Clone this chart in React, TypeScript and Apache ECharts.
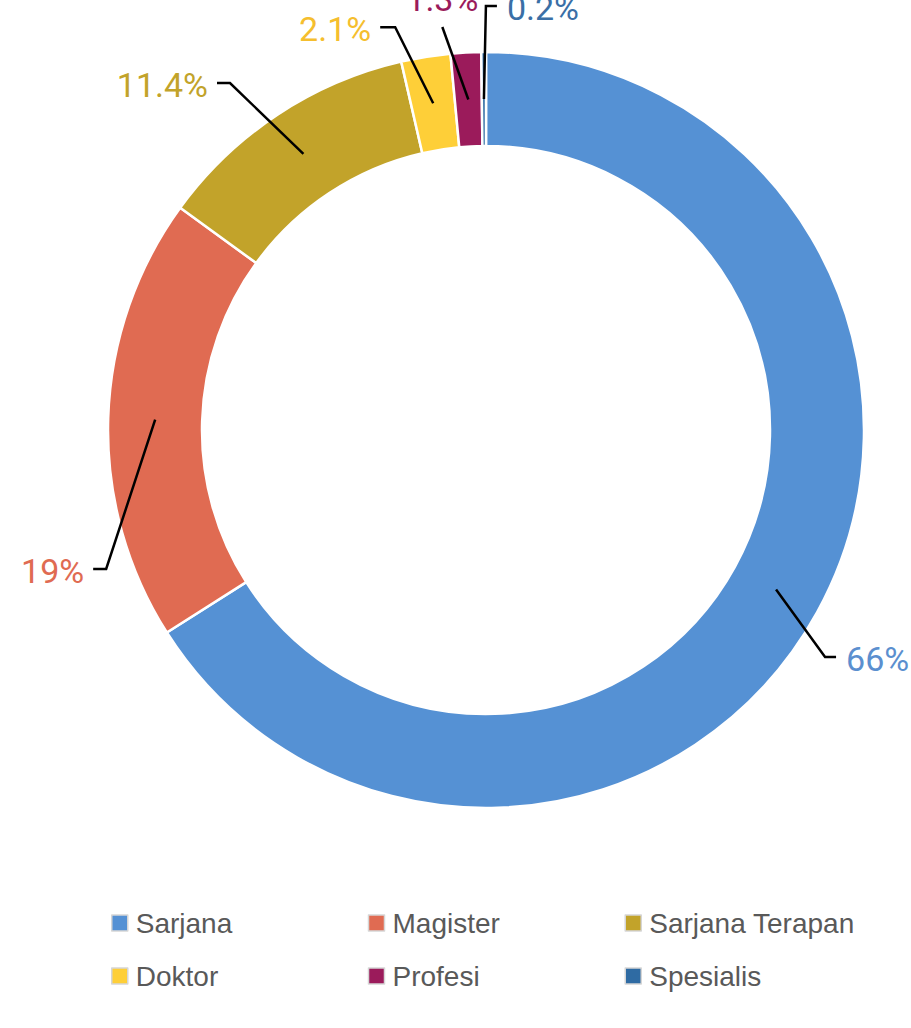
import React, { useEffect, useRef } from "react";
import * as echarts from "echarts";

// ---- data ----
const categories = ["Sarjana", "Magister", "Sarjana Terapan", "Doktor", "Profesi", "Spesialis"];
const percentages = [66, 19, 11.4, 2.1, 1.3, 0.2];
const sliceColors = ["#5591d4", "#e06b52", "#c2a32a", "#fecf38", "#9b1b5b", "#2f6ba3"];
const labelColors = ["#5b8fcf", "#e06b52", "#c2a32a", "#f5be2e", "#9b1b5b", "#3a6fa6"];

// ---- layout (leader lines, relative to each slice's mid-ring anchor) ----
const CX = 486;
const CY = 430;
const R_IN = 284;
const R_OUT = 378;
const leaderElbow = [
  [49, 67.5],
  [-49, 149.4],
  [-73.4, -70.9],
  [-38, -76],
  [-26, -72.5],
  [2, -93],
];
const leaderTail = [11, -13, -13, -15, 0, 11];

export default function App() {
  const ref = useRef<HTMLDivElement>(null);

  useEffect(() => {
    if (!ref.current) return;
    const chart = echarts.init(ref.current, undefined, { renderer: "svg" });
    const total = percentages.reduce((a, b) => a + b, 0);
    const rMid = (R_IN + R_OUT) / 2;
    const cum: number[] = [];
    let acc = 0;
    percentages.forEach((v) => {
      cum.push(acc + v / 2);
      acc += v;
    });

    const labelLayout = (params: any) => {
      const i = params.dataIndex;
      const theta = (cum[i] / total) * Math.PI * 2;
      const ax = CX + rMid * Math.sin(theta);
      const ay = CY - rMid * Math.cos(theta);
      const ex = ax + leaderElbow[i][0];
      const ey = ay + leaderElbow[i][1];
      const tail = leaderTail[i];
      const tx = ex + tail;
      if (tail === 0) {
        return {
          x: ex,
          y: ey - 28,
          align: "center",
          verticalAlign: "middle",
          labelLinePoints: [
            [ax, ay],
            [ex, ey],
            [ex, ey],
          ],
        };
      }
      return {
        x: tail > 0 ? tx + 10 : tx - 9,
        y: ey + 2,
        align: tail > 0 ? "left" : "right",
        verticalAlign: "middle",
        labelLinePoints: [
          [ax, ay],
          [ex, ey],
          [tx, ey],
        ],
      };
    };

    const base = {
      type: "pie",
      center: [CX, CY],
      radius: [R_IN, R_OUT],
      startAngle: 90,
      clockwise: true,
      avoidLabelOverlap: false,
      emphasis: { disabled: true },
    };

    chart.setOption({
      animation: false,
      backgroundColor: "#ffffff",
      legend: {
        orient: "horizontal",
        left: 111,
        top: 903,
        width: 800,
        padding: 0,
        itemGap: 13,
        itemWidth: 16,
        itemHeight: 16,
        icon: "rect",
        itemStyle: { borderColor: "#d6d6d6", borderWidth: 1.5 },
        textStyle: {
          fontFamily: "'Liberation Sans', Arial, sans-serif",
          fontSize: 28,
          color: "#595959",
          width: 219,
          lineHeight: 40,
          padding: [0, 0, 0, 3],
        },
        data: categories,
      },
      series: [
        {
          ...base,
          z: 2,
          itemStyle: { borderColor: "#ffffff", borderWidth: 2.5 },
          label: { show: false },
          labelLine: { show: false },
          data: categories.map((name, i) => ({
            name,
            value: percentages[i],
            itemStyle: { color: sliceColors[i] },
          })),
        },
        {
          ...base,
          z: 3,
          silent: true,
          itemStyle: { color: "rgba(0,0,0,0)", borderWidth: 0 },
          label: {
            show: true,
            position: "outside",
            formatter: "{c}%",
            fontFamily: "Roboto, 'Liberation Sans', sans-serif",
            fontSize: 34,
          },
          labelLine: {
            show: true,
            lineStyle: { color: "#000000", width: 2.5 },
          },
          labelLayout,
          data: categories.map((name, i) => ({
            name,
            value: percentages[i],
            itemStyle: { color: "rgba(0,0,0,0)" },
            label: { color: labelColors[i] },
          })),
        },
      ],
    });

    return () => chart.dispose();
  }, []);

  return (
    <div
      ref={ref}
      style={{ position: "absolute", left: 0, top: 0, width: 911, height: 1028 }}
    />
  );
}
